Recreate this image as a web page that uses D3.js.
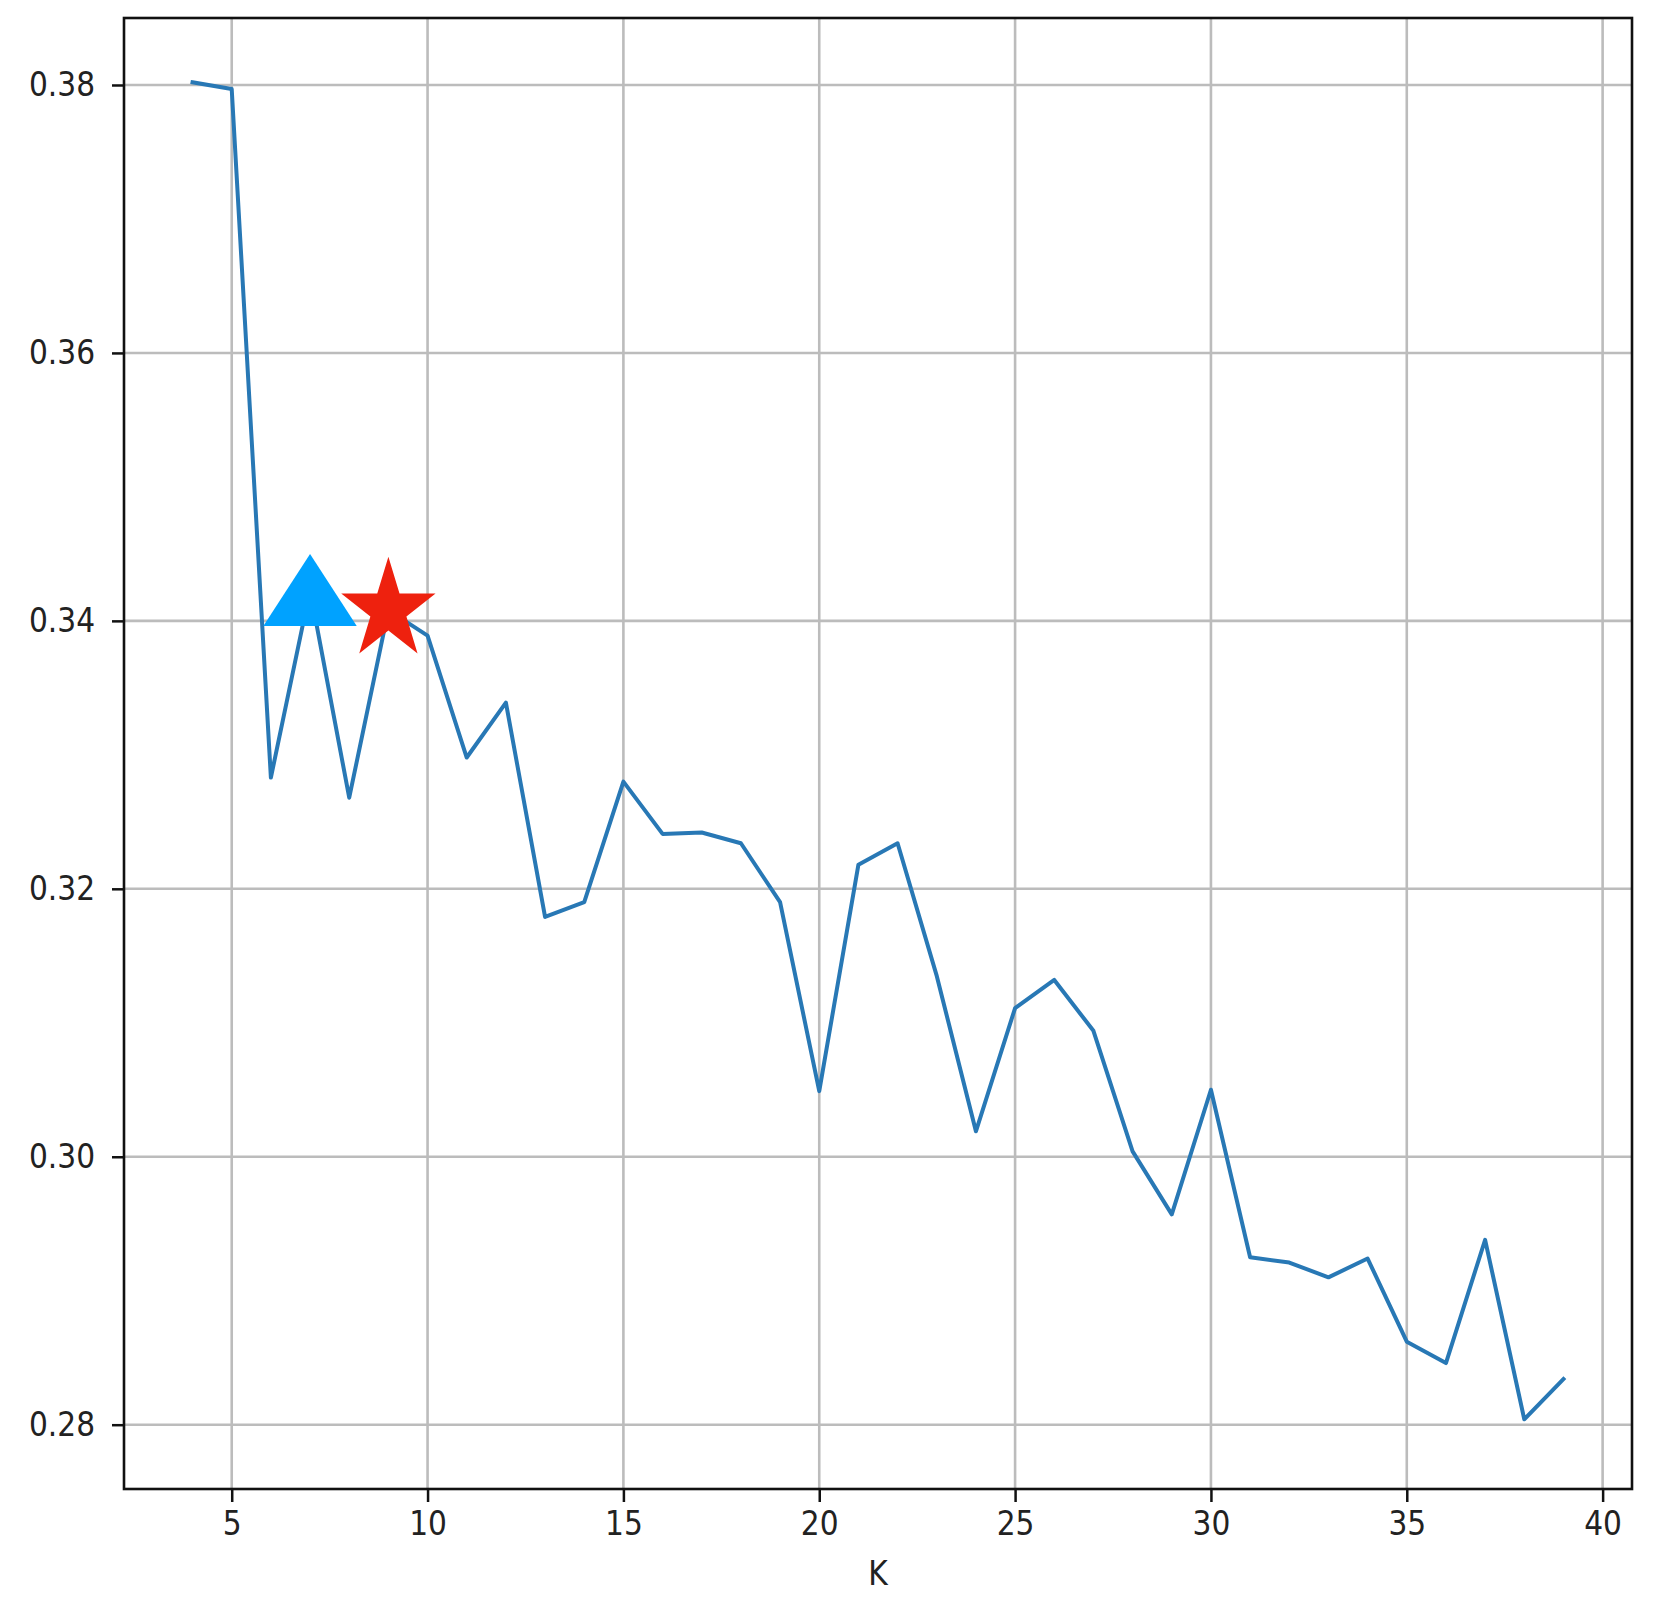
<!DOCTYPE html>
<html>
<head>
<meta charset="utf-8">
<script src="https://cdn.jsdelivr.net/npm/d3@7"></script>
<style>
  html, body { margin: 0; padding: 0; background: #fff; }
  svg { display: block; }
</style>
</head>
<body>
<script>
// ---- data ----
const kValues = [4,5,6,7,8,9,10,11,12,13,14,15,16,17,18,19,20,21,22,23,24,25,26,27,28,29,30,31,32,33,34,35,36,37,38,39];
const scores = [0.3802,0.3797,0.3283,0.3423,0.3268,0.3408,0.3389,0.3298,0.3339,0.3179,0.3190,0.3280,0.3241,0.3242,0.3234,0.3190,0.3049,0.3218,0.3234,0.3135,0.3019,0.3111,0.3132,0.3094,0.3004,0.2957,0.3050,0.2925,0.2921,0.2910,0.2924,0.2862,0.2846,0.2938,0.2804,0.2834];
const xTicks = [5,10,15,20,25,30,35,40];
const yTicks = [0.28,0.30,0.32,0.34,0.36,0.38];
const yTickLabels = ["0.28","0.30","0.32","0.34","0.36","0.38"];
const triangleK = [7];
const starK = [9];
const xLabel = "K";

// ---- layout ----
const W = 1665, H = 1600;
const L = 124, R = 1632, T = 18, B = 1489;
const FONT = "DejaVu Sans, sans-serif";
const FS = 33, SX = 0.9;

const svg = d3.select("body").append("svg").attr("width", W).attr("height", H);

const x = d3.scaleLinear().domain([2.25, 40.75]).range([L, R]);
const y = d3.scaleLinear().domain([0.2752, 0.3850]).range([B, T]);

// grid
const grid = svg.append("g");
grid.selectAll("line.gx").data(xTicks).join("line")
  .attr("x1", d => x(d)).attr("x2", d => x(d)).attr("y1", T).attr("y2", B)
  .attr("stroke", "#bcbcbc").attr("stroke-width", 2.6);
grid.selectAll("line.gy").data(yTicks).join("line")
  .attr("x1", L).attr("x2", R).attr("y1", d => y(d)).attr("y2", d => y(d))
  .attr("stroke", "#bcbcbc").attr("stroke-width", 2.6);

// line
const data = kValues.map((k, i) => ({k, v: scores[i]}));
svg.append("path").datum(data)
  .attr("fill", "none").attr("stroke", "#2878b5").attr("stroke-width", 4)
  .attr("stroke-linejoin", "round").attr("stroke-linecap", "square")
  .attr("d", d3.line().x(d => x(d.k)).y(d => y(d.v)));

// triangle marker
const triPath = "M0,-36 L46.7,36 L-46.7,36 Z";
svg.selectAll("path.tri").data(data.filter(d => triangleK.includes(d.k))).join("path")
  .attr("d", triPath).attr("fill", "#00a2ff")
  .attr("transform", d => `translate(${x(d.k)},${y(d.v)})`);

// star marker
function starPath(rx, ry, inner) {
  const pts = [];
  for (let i = 0; i < 10; i++) {
    const a = -Math.PI / 2 + i * Math.PI / 5;
    const r = i % 2 === 0 ? 1 : inner;
    pts.push([Math.cos(a) * r * rx, Math.sin(a) * r * ry]);
  }
  return "M" + pts.map(p => p.join(",")).join("L") + "Z";
}
svg.selectAll("path.star").data(data.filter(d => starK.includes(d.k))).join("path")
  .attr("d", starPath(49.6, 53.5, 0.381966)).attr("fill", "#ee210e")
  .attr("transform", d => `translate(${x(d.k)},${y(d.v)})`);

// axes
const xAxis = svg.append("g").attr("transform", `translate(0,${B})`)
  .call(d3.axisBottom(x).tickValues(xTicks).tickSize(13).tickPadding(10).tickFormat(d3.format("d")));
const yAxis = svg.append("g").attr("transform", `translate(${L},0)`)
  .call(d3.axisLeft(y).tickValues(yTicks).tickSize(12).tickPadding(17)
    .tickFormat((d, i) => yTickLabels[i]));

[xAxis, yAxis].forEach(g => {
  g.select(".domain").remove();
  g.selectAll(".tick line").attr("stroke", "#111").attr("stroke-width", 2.5);
  g.selectAll(".tick text").attr("font-family", FONT).attr("font-size", FS).attr("fill", "#222");
});
xAxis.selectAll(".tick text").attr("transform", `scale(${SX},1)`);
yAxis.selectAll(".tick text").each(function() {
  const t = d3.select(this);
  t.attr("x", (+t.attr("x")) / SX).attr("transform", `scale(${SX},1)`);
});

// spines
svg.append("rect").attr("x", L).attr("y", T).attr("width", R - L).attr("height", B - T)
  .attr("fill", "none").attr("stroke", "#111").attr("stroke-width", 2.6);

// x label
svg.append("text").attr("transform", `translate(${(L + R) / 2},1585) scale(${SX},1)`)
  .attr("text-anchor", "middle").attr("font-family", FONT).attr("font-size", FS)
  .attr("fill", "#222").text(xLabel);
</script>
</body>
</html>
